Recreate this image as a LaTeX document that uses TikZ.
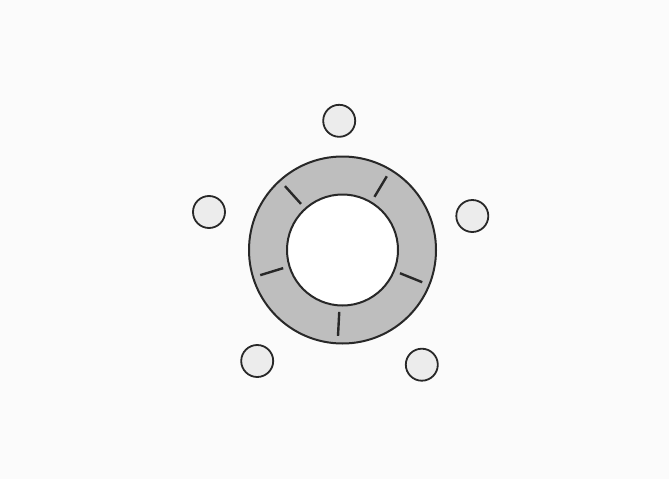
\documentclass[tikz,border=0pt]{standalone}
\usetikzlibrary{calc}
\definecolor{bgc}{RGB}{251,251,251}
\definecolor{ringc}{RGB}{190,190,190}
\definecolor{dotc}{RGB}{236,236,236}
\definecolor{linec}{RGB}{40,40,40}
\tikzset{
  ringline/.style={draw=linec, line width=2pt},
  dot/.style={circle, draw=linec, line width=1.8pt, fill=dotc, minimum size=32pt, inner sep=0pt},
  tick/.style={draw=linec, line width=2.4pt}
}
\begin{document}
\begin{tikzpicture}[x=1pt,y=-1pt]
\fill[bgc] (0,0) rectangle (669,479);
\useasboundingbox (0,0) rectangle (669,479);
\coordinate (c) at (342.5,250);
\fill[ringc, even odd rule] (c) circle[radius=93.5] (c) circle[radius=55.5];
\draw[ringline] (c) circle[radius=93.5];
\draw[ringline, fill=white] (c) circle[radius=55.5];
\foreach \a in {93,22,-59,-132,-197}{
  \draw[tick] ($(c)+(\a:62)$) -- ($(c)+(\a:86)$);
}
\node[dot] (d1) at (339.2,120.8) {};
\node[dot] (d2) at (209,212) {};
\node[dot] (d3) at (472.3,216) {};
\node[dot] (d4) at (257.2,361) {};
\node[dot] (d5) at (421.8,364.7) {};
\end{tikzpicture}
\end{document}
